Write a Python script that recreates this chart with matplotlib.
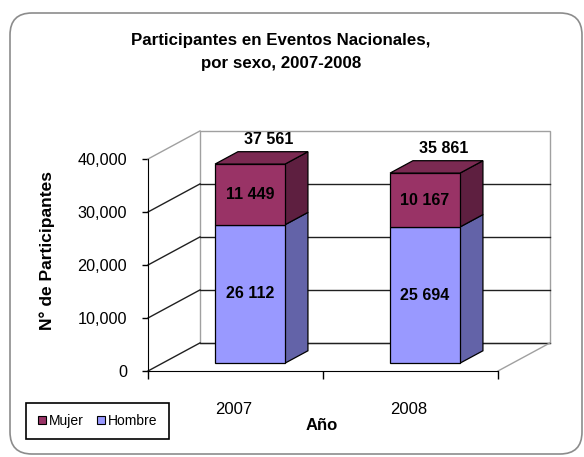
import matplotlib
matplotlib.use("Agg")
import matplotlib.pyplot as plt
from matplotlib.patches import Polygon, FancyBboxPatch
from matplotlib.lines import Line2D

plt.rcParams['font.family'] = ['Liberation Sans', 'DejaVu Sans']

# data
years = ['2007', '2008']
hombre = [26112, 25694]
mujer = [11449, 10167]
totales = [37561, 35861]
yticks = [0, 10000, 20000, 30000, 40000]
ytick_labels = ['0', '10,000', '20,000', '30,000', '40,000']

W, H = 584, 457
fig = plt.figure(figsize=(W / 100, H / 100), dpi=100)

def fx(x):
    return x / W

def fy(y):
    return 1 - y / H

# front plane of the plot
ax = fig.add_axes([fx(148), fy(371), 350 / W, 212 / H])
ax.set_xlim(0, 2)
ax.set_ylim(0, 40000)
ax.patch.set_visible(False)

# depth of the 3d box (data units)
DX = 52 / 175
DY = 5300
d0, d1 = 0.28, 0.72
bw = 0.4

wall = '#a0a0a0'
grid = '#202020'

# back wall
ax.add_patch(Polygon([(DX, DY), (2 + DX, DY), (2 + DX, 40000 + DY), (DX, 40000 + DY)],
                     closed=True, facecolor='white', edgecolor=wall, lw=1, clip_on=False, zorder=1))
for v in yticks[:-1]:
    c = grid
    ax.plot([DX, 2 + DX], [v + DY, v + DY], color=c, lw=1, clip_on=False, zorder=2)
    ax.plot([0, DX], [v, v + DY], color=c, lw=1, clip_on=False, zorder=2)
ax.plot([0, DX], [40000, 40000 + DY], color=wall, lw=1, clip_on=False, zorder=2)
# floor right edge
ax.plot([2, 2 + DX], [0, DY], color=wall, lw=1, clip_on=False, zorder=2)

# bars
colors = {
    'hombre': ('#9999ff', '#6363a8', '#7b7bcc'),
    'mujer': ('#993366', '#5e1f40', '#7b2a52'),
}

def draw_block(c, lo, hi, cols, top):
    x0 = c - bw / 2
    x1 = c + bw / 2
    front, side, topc = cols
    # side
    ax.add_patch(Polygon([(x1 + d0 * DX, lo + d0 * DY), (x1 + d1 * DX, lo + d1 * DY),
                          (x1 + d1 * DX, hi + d1 * DY), (x1 + d0 * DX, hi + d0 * DY)],
                         closed=True, facecolor=side, edgecolor='black', lw=0.9,
                         clip_on=False, zorder=4))
    # front
    ax.add_patch(Polygon([(x0 + d0 * DX, lo + d0 * DY), (x1 + d0 * DX, lo + d0 * DY),
                          (x1 + d0 * DX, hi + d0 * DY), (x0 + d0 * DX, hi + d0 * DY)],
                         closed=True, facecolor=front, edgecolor='black', lw=0.9,
                         clip_on=False, zorder=5))
    if top:
        ax.add_patch(Polygon([(x0 + d0 * DX, hi + d0 * DY), (x1 + d0 * DX, hi + d0 * DY),
                              (x1 + d1 * DX, hi + d1 * DY), (x0 + d1 * DX, hi + d1 * DY)],
                             closed=True, facecolor=topc, edgecolor='black', lw=0.9,
                             clip_on=False, zorder=5))

for i in range(len(years)):
    c = i + 0.5
    draw_block(c, 0, hombre[i], colors['hombre'], False)
    draw_block(c, hombre[i], hombre[i] + mujer[i], colors['mujer'], True)
    ax.text(c + d0 * DX, hombre[i] / 2 + d0 * DY, f"{hombre[i]:,}".replace(',', ' '),
            ha='center', va='center', fontsize=11.5, fontweight='bold', zorder=6)
    ax.text(c + d0 * DX, hombre[i] + mujer[i] / 2 + d0 * DY, f"{mujer[i]:,}".replace(',', ' '),
            ha='center', va='center', fontsize=11.5, fontweight='bold', zorder=6)
    ax.annotate(f"{totales[i]:,}".replace(',', ' '),
                (c + (d0 + d1) / 2 * DX, totales[i] + d1 * DY),
                xytext=(7, 12), textcoords='offset pixels',
                ha='center', va='center', fontsize=11.5, fontweight='bold',
                annotation_clip=False, zorder=6)

# axes
for s in ['top', 'right']:
    ax.spines[s].set_visible(False)
ax.spines['left'].set_color('black')
ax.spines['bottom'].set_color('black')
ax.spines['left'].set_zorder(3)
ax.spines['bottom'].set_zorder(3)
ax.set_yticks(yticks)
ax.set_yticklabels(ytick_labels)
ax.tick_params(axis='y', direction='out', length=4, width=1, pad=11, labelsize=11.7)
ax.set_xticks([0, 1, 2])
ax.set_xticklabels([])
ax.set_xticks([0.49, 1.49], minor=True)
ax.set_xticklabels(years, minor=True)
ax.tick_params(axis='x', which='major', direction='out', length=6, width=1)
ax.tick_params(axis='x', which='minor', length=0, pad=22, labelsize=12)

# titles
fig.text(fx(281), fy(45), 'Participantes en Eventos Nacionales,', ha='center',
         va='baseline', fontsize=12.2, fontweight='bold')
fig.text(fx(281), fy(68), 'por sexo, 2007-2008', ha='center',
         va='baseline', fontsize=12.2, fontweight='bold')
fig.text(fx(47), fy(251), 'N° de Participantes', rotation=90, ha='center', va='center',
         fontsize=12.5, fontweight='bold')
fig.text(fx(322), fy(430), 'Año', ha='center', va='baseline', fontsize=12, fontweight='bold')

# legend
handles = [Line2D([], [], marker='s', ls='none', markersize=5.5, markerfacecolor='#993366',
                  markeredgecolor='black', markeredgewidth=0.8),
           Line2D([], [], marker='s', ls='none', markersize=5.5, markerfacecolor='#9999ff',
                  markeredgecolor='black', markeredgewidth=0.8)]
leg = fig.legend(handles, ['Mujer', 'Hombre'], loc='upper left',
                 bbox_to_anchor=(fx(26), fy(403)), ncol=2, fontsize=10,
                 frameon=True, fancybox=False, edgecolor='black', framealpha=1,
                 handlelength=0.7, handletextpad=0.15, columnspacing=0.9,
                 borderpad=0.8, borderaxespad=0)
leg.get_frame().set_linewidth(1.2)

# outer rounded border
fig.patches.append(FancyBboxPatch((10 / 100, (H - 454) / 100), 572 / 100, 441 / 100,
                                  boxstyle='round,pad=0,rounding_size=0.22',
                                  transform=fig.dpi_scale_trans, facecolor='none',
                                  edgecolor='#8c8c8c', lw=1.2, figure=fig))

fig.savefig('out.png', dpi=100)
